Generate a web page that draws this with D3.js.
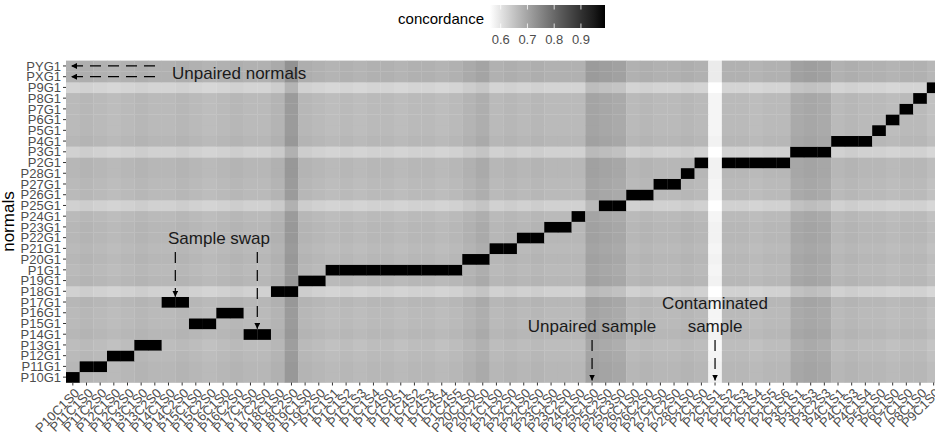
<!DOCTYPE html>
<html lang="en">
<head>
  <meta charset="UTF-8" />
  <title>Concordance heatmap</title>
  <script src="https://d3js.org/d3.v7.min.js"></script>
  <style>
    body {
      background-color: white;
      margin: 0;
      font-family: "Liberation Sans", Arial, sans-serif;
    }
    svg { display: block; }
    .tick-label { font-size: 13px; fill: #4d4d4d; }
    .annot { font-size: 17px; fill: #1a1a1a; }
  </style>
</head>
<body>
  <svg></svg>

  <script>
    // normals, bottom to top
    const normals = ["P10G1","P11G1","P12G1","P13G1","P14G1","P15G1","P16G1","P17G1","P18G1","P19G1",
      "P1G1","P20G1","P21G1","P22G1","P23G1","P24G1","P25G1","P26G1","P27G1","P28G1",
      "P2G1","P3G1","P4G1","P5G1","P6G1","P7G1","P8G1","P9G1","PXG1","PYG1"];

    const samples = ["P10C1S0","P11C1S0","P11C2S0","P12C1S0","P12C2S0","P13C1S0","P13C2S0","P14C1S0","P14C2S0",
      "P15C1S0","P15C2S0","P16C1S0","P16C2S0","P17C1S0","P17C2S0","P18C1S0","P18C2S0","P19C1S0","P19C2S0",
      "P1C1S1","P1C1S2","P1C1S3","P1C1S4","P1C4S0","P1C4S1","P1C4S2","P1C4S3","P1C4S4","P1C4S5",
      "P20C1S0","P20C2S0","P21C1S0","P21C2S0","P22C1S0","P22C2S0","P23C1S0","P23C2S0","P24C1S0",
      "P25C1S0","P25C2S0","P25C3S0","P26C1S0","P26C2S0","P27C1S0","P27C2S0","P28C1S0",
      "P2C1S0","P2C1S1","P2C1S2","P2C1S3","P2C1S4","P2C1S5","P2C1S6",
      "P3C1S1","P3C1S3","P3C2S3","P4C1S1","P4C1S3","P4C1S4",
      "P5C1S0","P6C1S0","P7C1S0","P8C1S0","P9C1S0"];

    // best matching normal for each sample (null = no match)
    const matchedNormal = ["P10G1","P11G1","P11G1","P12G1","P12G1","P13G1","P13G1","P17G1","P17G1",
      "P15G1","P15G1","P16G1","P16G1","P14G1","P14G1","P18G1","P18G1","P19G1","P19G1",
      "P1G1","P1G1","P1G1","P1G1","P1G1","P1G1","P1G1","P1G1","P1G1","P1G1",
      "P20G1","P20G1","P21G1","P21G1","P22G1","P22G1","P23G1","P23G1","P24G1",
      null,"P25G1","P25G1","P26G1","P26G1","P27G1","P27G1","P28G1",
      "P2G1",null,"P2G1","P2G1","P2G1","P2G1","P2G1",
      "P3G1","P3G1","P3G1","P4G1","P4G1","P4G1",
      "P5G1","P6G1","P7G1","P8G1","P9G1"];

    // background concordance level of each normal (same order as normals)
    const normalLevel = [0.67,0.67,0.665,0.66,0.67,0.665,0.665,0.67,0.63,0.67,
      0.665,0.67,0.665,0.67,0.67,0.665,0.63,0.665,0.665,0.67,
      0.67,0.63,0.67,0.665,0.665,0.665,0.665,0.625,0.68,0.68];

    // per-sample shift of concordance (same order as samples)
    const sampleShift = [0.0,0.005,0.0,-0.005,0.0,0.005,0.0,0.0,0.005,
      0.0,-0.005,0.0,0.005,0.0,0.0,0.01,0.05,0.005,0.0,
      -0.005,0.0,-0.005,0.0,0.0,-0.005,0.0,0.0,-0.005,0.0,
      0.01,0.02,0.0,0.005,0.0,0.005,0.0,0.0,0.0,
      0.035,0.03,0.025,0.0,0.005,0.0,0.0,0.005,
      0.0,-0.09,0.0,0.0,-0.005,0.0,0.0,
      0.025,0.03,0.025,0.0,0.005,0.0,
      0.0,-0.005,0.0,0.0,-0.01];

    const matchValue = 0.99;
    const legendTicks = [0.6, 0.7, 0.8, 0.9];
    const colorDomain = [0.56, 0.99];

    const W = 935, H = 432;
    const plotLeft = 66, plotTop = 60.6, plotBottom = 382.5, plotRight = 940.5;

    const svg = d3.select("svg").attr("width", W).attr("height", H);

    const x = d3.scaleBand().domain(samples).range([plotLeft, plotRight]);
    const y = d3.scaleBand().domain(normals.slice().reverse()).range([plotTop, plotBottom]);
    const color = d3.scaleLinear().domain(colorDomain).range(["#ffffff", "#000000"])
      .interpolate(d3.interpolateLab).clamp(true);

    const cells = [];
    normals.forEach((n, i) => {
      samples.forEach((s, j) => {
        const v = matchedNormal[j] === n ? matchValue : normalLevel[i] + sampleShift[j];
        cells.push({ n, s, v });
      });
    });

    svg.append("g").selectAll("rect")
      .data(cells)
      .enter().append("rect")
      .attr("x", d => x(d.s))
      .attr("y", d => y(d.n))
      .attr("width", x.bandwidth() + 0.3)
      .attr("height", y.bandwidth() + 0.3)
      .attr("fill", d => color(d.v));

    // y axis
    const yAxis = svg.append("g");
    yAxis.selectAll("line").data(normals).enter().append("line")
      .attr("x1", plotLeft - 3).attr("x2", plotLeft)
      .attr("y1", d => y(d) + y.bandwidth() / 2).attr("y2", d => y(d) + y.bandwidth() / 2)
      .attr("stroke", "#333").attr("stroke-width", 1);
    yAxis.selectAll("text").data(normals).enter().append("text")
      .attr("class", "tick-label")
      .attr("x", plotLeft - 5)
      .attr("y", d => y(d) + y.bandwidth() / 2)
      .attr("dy", "0.36em")
      .attr("text-anchor", "end")
      .text(d => d);

    svg.append("text")
      .attr("transform", `translate(14,${(plotTop + plotBottom) / 2}) rotate(-90)`)
      .attr("text-anchor", "middle")
      .attr("font-size", 17)
      .attr("fill", "#000")
      .text("normals");

    // x axis
    const xAxis = svg.append("g");
    xAxis.selectAll("line").data(samples).enter().append("line")
      .attr("x1", d => x(d) + x.bandwidth() / 2).attr("x2", d => x(d) + x.bandwidth() / 2)
      .attr("y1", plotBottom).attr("y2", plotBottom + 3)
      .attr("stroke", "#333").attr("stroke-width", 1);
    xAxis.selectAll("text").data(samples).enter().append("text")
      .attr("class", "tick-label")
      .attr("transform", d => `translate(${x(d) + x.bandwidth() / 2 + 4},${plotBottom + 8}) rotate(-45)`)
      .attr("text-anchor", "end")
      .attr("dy", "0.36em")
      .text(d => d);

    // legend
    const lx = d3.scaleLinear().domain(colorDomain).range([490, 605]);
    const defs = svg.append("defs");
    const grad = defs.append("linearGradient").attr("id", "lg");
    d3.range(0, 1.0001, 0.1).forEach(t => {
      grad.append("stop").attr("offset", t)
        .attr("stop-color", color(colorDomain[0] + t * (colorDomain[1] - colorDomain[0])));
    });
    svg.append("rect").attr("x", lx(colorDomain[0])).attr("y", 5)
      .attr("width", lx(colorDomain[1]) - lx(colorDomain[0])).attr("height", 23)
      .attr("fill", "url(#lg)");
    legendTicks.forEach(t => {
      svg.append("line").attr("x1", lx(t)).attr("x2", lx(t)).attr("y1", 5).attr("y2", 9.5)
        .attr("stroke", "#fff").attr("stroke-width", 0.8);
      svg.append("line").attr("x1", lx(t)).attr("x2", lx(t)).attr("y1", 23.5).attr("y2", 28)
        .attr("stroke", "#fff").attr("stroke-width", 0.8);
    });
    svg.append("g").selectAll("text").data(legendTicks).enter().append("text")
      .attr("class", "tick-label")
      .attr("x", d => lx(d)).attr("y", 44)
      .attr("text-anchor", "middle")
      .text(d => d.toFixed(1));
    svg.append("text")
      .attr("x", 484).attr("y", 24)
      .attr("text-anchor", "end")
      .attr("font-size", 15)
      .text("concordance");

    // annotations
    defs.append("marker").attr("id", "ah")
      .attr("viewBox", "0 0 10 10").attr("refX", 10).attr("refY", 5)
      .attr("markerWidth", 6).attr("markerHeight", 6).attr("markerUnits", "userSpaceOnUse")
      .attr("orient", "auto")
      .append("path").attr("d", "M0,0L10,5L0,10Z").attr("fill", "#000");

    function arrow(x1, y1, x2, y2) {
      svg.append("line")
        .attr("x1", x1).attr("y1", y1).attr("x2", x2).attr("y2", y2)
        .attr("stroke", "#000").attr("stroke-width", 1.2)
        .attr("stroke-dasharray", "11,7")
        .attr("marker-end", "url(#ah)");
    }
    const cy = n => y(n) + y.bandwidth() / 2;
    const cx = s => x(s) + x.bandwidth() / 2;
    const pairX = (a, b) => (x(a) + x(b) + x.bandwidth()) / 2;

    arrow(155, cy("PYG1"), 71, cy("PYG1"));
    arrow(155, cy("PXG1"), 71, cy("PXG1"));
    svg.append("text").attr("class", "annot").attr("x", 172).attr("y", 79).text("Unpaired normals");

    arrow(pairX("P14C1S0", "P14C2S0"), 252, pairX("P14C1S0", "P14C2S0"), y("P17G1"));
    arrow(pairX("P17C1S0", "P17C2S0"), 252, pairX("P17C1S0", "P17C2S0"), y("P14G1"));
    svg.append("text").attr("class", "annot").attr("x", 219).attr("y", 244)
      .attr("text-anchor", "middle").text("Sample swap");

    arrow(cx("P25C1S0"), 340, cx("P25C1S0"), plotBottom - 2);
    svg.append("text").attr("class", "annot").attr("x", cx("P25C1S0")).attr("y", 332)
      .attr("text-anchor", "middle").text("Unpaired sample");

    arrow(cx("P2C1S1"), 340, cx("P2C1S1"), plotBottom - 2);
    svg.append("text").attr("class", "annot").attr("x", cx("P2C1S1")).attr("y", 309)
      .attr("text-anchor", "middle").text("Contaminated");
    svg.append("text").attr("class", "annot").attr("x", cx("P2C1S1")).attr("y", 332)
      .attr("text-anchor", "middle").text("sample");
  </script>
</body>
</html>
